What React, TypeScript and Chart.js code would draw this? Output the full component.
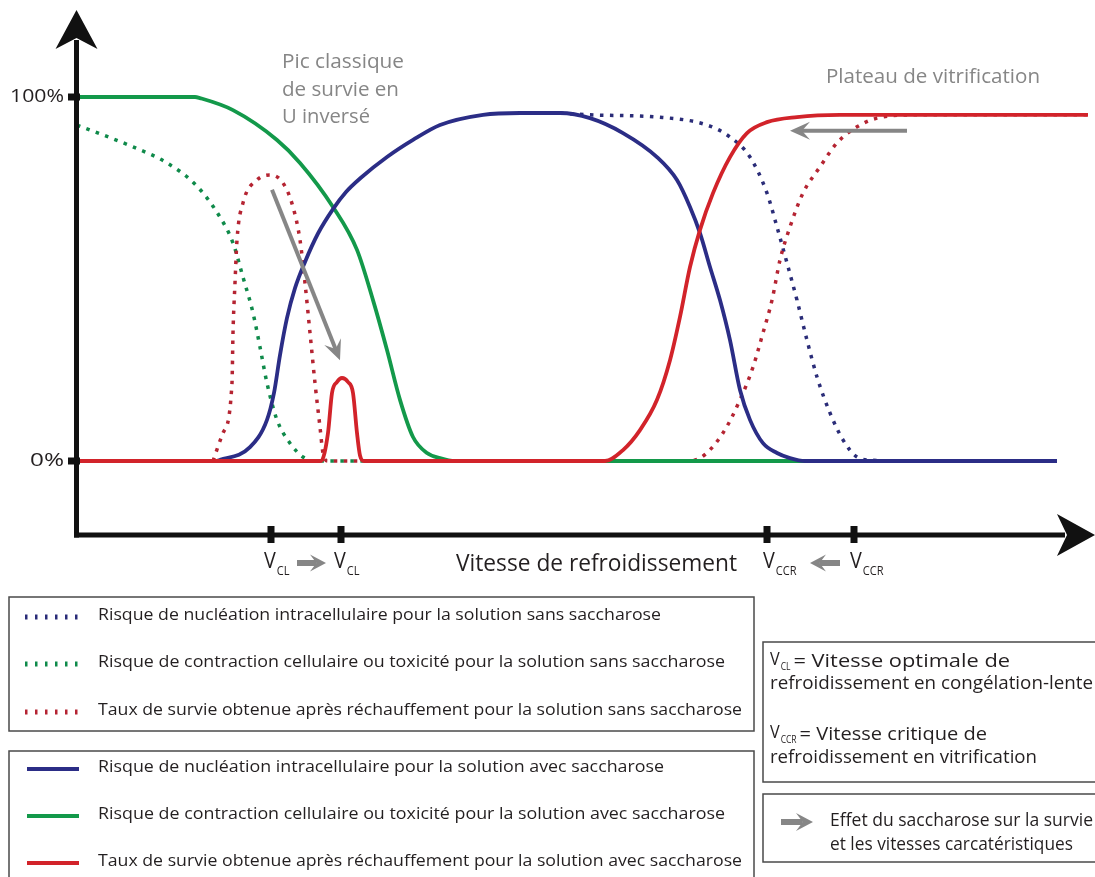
import React, { useEffect, useRef } from 'react';
import { Chart, registerables } from 'chart.js';

Chart.register(...registerables);

const FONT = '"Open Sans", Lato, "DejaVu Sans", sans-serif';
const INK = '#231f20';
const GREY = '#868686';

const COL_BLUE = '#2b2d86';
const COL_GREEN = '#13994a';
const COL_RED = '#d2232a';
const COL_BLUE_DOT = '#2a2c78';
const COL_GREEN_DOT = '#0f8a4a';
const COL_RED_DOT = '#b52432';

// x = cooling speed (arbitrary units), y = percent
const greenSolidX = [0, 12, 12.5, 15.8, 20.2, 22.5, 25.8, 28.2, 29.8, 31.2, 32.5, 33.8, 35.2, 36.5, 38, 78];
const greenSolidY = [100, 100, 99.7, 96.4, 88.2, 81.9, 69.8, 58, 44.2, 30.5, 16.8, 6.6, 2.2, 0.8, 0, 0];

const greenDotX = [0.2, 5.8, 9.2, 12.2, 14.5, 15.8, 16.8, 17.8, 18.5, 19.2, 20.2, 21.5, 22.8, 23.8, 34.5];
const greenDotY = [92.3, 86.3, 81.9, 75.5, 67, 59.9, 50.5, 40.7, 31.3, 21.4, 11.3, 4.9, 1.1, 0, 0];

const redDotX = [13.8, 14.8, 15.7, 15.8, 16, 16.2, 16.8, 18.2, 19.5, 20.8, 21.8, 22.5, 23, 23.5, 24, 24.5, 24.8, 25.3, 61, 62.5, 64.8, 66.5, 67.8, 68.8, 69.7, 70.5, 71.5, 72.8, 74.5, 76.2, 78.2, 80.2, 84.2, 101.3];
const redDotY = [0, 7.7, 21.4, 35.2, 48.9, 60.7, 70.9, 77.2, 78.6, 76.4, 69.8, 60.7, 48.9, 35.2, 21.4, 9.3, 2.2, 0, 0, 0.8, 7.7, 16.8, 25.8, 35.2, 44.2, 55.2, 64.3, 73.6, 80.8, 87.4, 91.8, 94.2, 95.1, 95.1];

const redSolidX = [0, 24.6, 25.3, 25.7, 26.2, 26.7, 27.3, 27.8, 28.2, 28.5, 28.9, 53, 54.8, 56.5, 58.2, 59.5, 60.5, 61.5, 62.5, 63.8, 65.5, 67.2, 69.2, 72.2, 76.5, 101.3];
const redSolidY = [0, 0, 7.7, 18.7, 21.7, 22.8, 21.7, 18.7, 7.7, 1.5, 0, 0, 3, 8.5, 16.8, 27.7, 39.6, 53.3, 63.5, 73.6, 83.5, 90.1, 93.1, 94.5, 95.1, 95.1];

const blueSolidX = [0, 14, 14.5, 17.5, 19.2, 19.9, 20.5, 21.2, 22, 23, 24.3, 25.8, 27.1, 28.5, 31.2, 33.8, 36.5, 40.8, 44.5, 48.5, 51.5, 54.8, 58.2, 60.2, 61.5, 62.5, 63.5, 64.5, 65.5, 66.5, 67.5, 68.8, 70.2, 71.5, 73, 98.2];
const blueSolidY = [0, 0, 0.3, 3.8, 11.3, 18.7, 29.1, 39.3, 47.5, 54.7, 62.5, 69.2, 73.9, 77.6, 83.5, 88.2, 92.3, 95.1, 95.6, 95.6, 94.2, 90.1, 83.5, 77.2, 69.8, 62.6, 53.3, 44.2, 33.2, 19.5, 11.3, 4.9, 2.2, 0.8, 0, 0];

const blueDotX = [48.5, 51.5, 58.2, 63.2, 65.5, 67.5, 69.2, 70.2, 71.2, 72.2, 73.2, 74.2, 75.5, 76.8, 78.2, 79.8, 84];
const blueDotY = [95.6, 95.1, 94.5, 92.3, 89, 83.5, 73.6, 64.3, 54.4, 44.2, 33.2, 23.1, 13.2, 5.8, 1.1, 0.2, 0];

const yTickValues = [0, 100];
const yTickLabels = ['0%', '100%'];
const speedMarks = [19.6, 26.6, 69.2, 77.9];
const speedMarkSubs = ['CL', 'CL', 'CCR', 'CCR'];
const xAxisTitle = 'Vitesse de refroidissement';
const peakNote = ['Pic classique', 'de survie en', 'U inversé'];
const plateauNote = 'Plateau de vitrification';
// sucrose-effect arrows: [x1, y1, x2, y2] in data units
const effectArrows = [
  [19.7, 74.5, 26.5, 27.7],
  [83.2, 90.7, 71.5, 90.7],
];

const legendDotted = [
  'Risque de nucléation intracellulaire pour la solution sans saccharose',
  'Risque de contraction cellulaire ou toxicité pour la solution sans saccharose',
  'Taux de survie obtenue après réchauffement pour la solution sans saccharose',
];
const legendSolid = [
  'Risque de nucléation intracellulaire pour la solution avec saccharose',
  'Risque de contraction cellulaire ou toxicité pour la solution avec saccharose',
  'Taux de survie obtenue après réchauffement pour la solution avec saccharose',
];
const legendDottedColors = [COL_BLUE_DOT, COL_GREEN_DOT, COL_RED_DOT];
const legendSolidColors = [COL_BLUE, COL_GREEN, COL_RED];
const legendWidths = [563, 627, 644, 566, 627, 644];

const defVcl = ['= Vitesse optimale de', 'refroidissement en congélation-lente'];
const defVccr = ['= Vitesse critique de', 'refroidissement en vitrification'];
const effectNote = ['Effet du saccharose sur la survie', 'et les vitesses carcatéristiques'];

const pts = (xs: number[], ys: number[]) => xs.map((x, i) => ({ x, y: ys[i] }));

function text(
  ctx: CanvasRenderingContext2D, s: string, x: number, y: number, size: number,
  color: string, width?: number, align: 'left' | 'right' | 'center' = 'left'
) {
  ctx.save();
  ctx.font = `${size}px ${FONT}`;
  ctx.fillStyle = color;
  ctx.textBaseline = 'middle';
  ctx.textAlign = 'left';
  const w = ctx.measureText(s).width;
  const tw = width ?? w;
  const sx = tw / w;
  let left = x;
  if (align === 'right') left = x - tw;
  if (align === 'center') left = x - tw / 2;
  ctx.translate(left, y);
  ctx.scale(sx, 1);
  ctx.fillText(s, 0, 0);
  ctx.restore();
}

function arrow(
  ctx: CanvasRenderingContext2D, x1: number, y1: number, x2: number, y2: number,
  color: string, shaft: number, headL: number, headW: number
) {
  const dx = x2 - x1, dy = y2 - y1;
  const len = Math.hypot(dx, dy);
  const ux = dx / len, uy = dy / len;
  const px = -uy, py = ux;
  ctx.save();
  ctx.strokeStyle = color;
  ctx.fillStyle = color;
  ctx.lineWidth = shaft;
  ctx.lineCap = 'butt';
  ctx.beginPath();
  ctx.moveTo(x1, y1);
  ctx.lineTo(x2 - ux * headL * 0.6, y2 - uy * headL * 0.6);
  ctx.stroke();
  ctx.beginPath();
  ctx.moveTo(x2, y2);
  ctx.lineTo(x2 - ux * headL + px * headW / 2, y2 - uy * headL + py * headW / 2);
  ctx.lineTo(x2 - ux * headL * 0.6, y2 - uy * headL * 0.6);
  ctx.lineTo(x2 - ux * headL - px * headW / 2, y2 - uy * headL - py * headW / 2);
  ctx.closePath();
  ctx.fill();
  ctx.restore();
}

function vLabel(ctx: CanvasRenderingContext2D, x: number, y: number, sub: string, size: number, subSize: number) {
  ctx.save();
  ctx.font = `${size}px ${FONT}`;
  const vw = ctx.measureText('V').width * 0.9;
  ctx.font = `${subSize}px ${FONT}`;
  const sw = ctx.measureText(sub).width * 0.85;
  ctx.restore();
  text(ctx, 'V', x, y, size, INK, vw);
  text(ctx, sub, x + vw + 1, y + size * 0.42, subSize, INK, sw);
  return x + vw + 1 + sw;
}

function box(ctx: CanvasRenderingContext2D, x1: number, y1: number, x2: number, y2: number) {
  ctx.save();
  ctx.strokeStyle = '#4a4a4a';
  ctx.lineWidth = 1.5;
  ctx.strokeRect(x1, y1, x2 - x1, y2 - y1);
  ctx.restore();
}

const overlay = {
  id: 'overlay',
  beforeDraw(chart: any) {
    const c = chart.ctx;
    c.save();
    c.fillStyle = '#ffffff';
    c.fillRect(0, 0, chart.width, chart.height);
    c.restore();
  },
  afterDraw(chart: any) {
    const ctx: CanvasRenderingContext2D = chart.ctx;
    const xs = chart.scales.x;
    const ys = chart.scales.y;
    const a = chart.chartArea;
    const ax = a.left + 1.5;
    const ay = a.bottom;

    ctx.save();
    ctx.strokeStyle = '#111';
    ctx.fillStyle = '#111';
    ctx.lineWidth = 5;
    ctx.beginPath();
    ctx.moveTo(ax, 40);
    ctx.lineTo(ax, ay + 2.5);
    ctx.stroke();
    ctx.beginPath();
    ctx.moveTo(ax - 2.5, ay);
    ctx.lineTo(a.right - 30, ay);
    ctx.stroke();
    ctx.beginPath();
    ctx.moveTo(ax, 10);
    ctx.lineTo(ax + 21, 49);
    ctx.lineTo(ax, 38);
    ctx.lineTo(ax - 21, 49);
    ctx.closePath();
    ctx.fill();
    ctx.beginPath();
    ctx.moveTo(a.right, ay);
    ctx.lineTo(a.right - 38, ay - 21);
    ctx.lineTo(a.right - 28, ay);
    ctx.lineTo(a.right - 38, ay + 21);
    ctx.closePath();
    ctx.fill();

    yTickValues.forEach((v) => {
      const py = ys.getPixelForValue(v);
      ctx.fillRect(68, py - 3.5, 12, 7);
    });
    speedMarks.forEach((v) => {
      const px = xs.getPixelForValue(v);
      ctx.fillRect(px - 3.5, ay - 9, 7, 17);
    });
    ctx.restore();

    yTickValues.forEach((v, i) => {
      const py = ys.getPixelForValue(v);
      text(ctx, yTickLabels[i], 64, py, 19, INK, yTickLabels[i].length > 2 ? 54 : 34, 'right');
    });

    speedMarks.forEach((v, i) => {
      const px = xs.getPixelForValue(v);
      const off = speedMarkSubs[i].length > 2 ? -4 : -7;
      vLabel(ctx, px + off, 562, speedMarkSubs[i], 22, 13);
    });
    const m = speedMarks.map((v) => xs.getPixelForValue(v));
    arrow(ctx, m[0] + 26, 563, m[0] + 55, 563, GREY, 6, 16, 17);
    arrow(ctx, m[3] - 14, 563, m[3] - 44, 563, GREY, 6, 16, 17);

    text(ctx, xAxisTitle, 456, 564, 23, INK, 281);

    text(ctx, peakNote[0], 282, 62, 20, GREY, 122);
    text(ctx, peakNote[1], 282, 90, 20, GREY, 117);
    text(ctx, peakNote[2], 282, 117, 20, GREY, 88);
    text(ctx, plateauNote, 826, 77, 20, GREY, 214);

    effectArrows.forEach(([x1, y1, x2, y2]) => {
      arrow(ctx, xs.getPixelForValue(x1), ys.getPixelForValue(y1), xs.getPixelForValue(x2), ys.getPixelForValue(y2), GREY, 4, 20, 18);
    });

    box(ctx, 9, 597, 754, 731);
    box(ctx, 9, 751, 754, 879);
    const rowsY1 = [615, 662, 710];
    const rowsY2 = [767, 814, 861];
    legendDotted.forEach((s, i) => {
      ctx.save();
      ctx.strokeStyle = legendDottedColors[i];
      ctx.lineWidth = 5;
      ctx.setLineDash([2.5, 7.5]);
      ctx.beginPath();
      ctx.moveTo(25, rowsY1[i] + 2);
      ctx.lineTo(82, rowsY1[i] + 2);
      ctx.stroke();
      ctx.restore();
      text(ctx, s, 98, rowsY1[i], 17, INK, legendWidths[i]);
    });
    legendSolid.forEach((s, i) => {
      ctx.save();
      ctx.strokeStyle = legendSolidColors[i];
      ctx.lineWidth = 4;
      ctx.beginPath();
      ctx.moveTo(27, rowsY2[i] + 2);
      ctx.lineTo(79, rowsY2[i] + 2);
      ctx.stroke();
      ctx.restore();
      text(ctx, s, 98, rowsY2[i], 17, INK, legendWidths[i + 3]);
    });

    box(ctx, 763, 642, 1100, 782);
    let e = vLabel(ctx, 770, 660, 'CL', 18, 10);
    text(ctx, defVcl[0], e + 3, 662, 17.5, INK, 1010 - e - 3);
    text(ctx, defVcl[1], 770, 684, 17.5, INK, 323);
    e = vLabel(ctx, 770, 733, 'CCR', 18, 10);
    text(ctx, defVccr[0], e + 3, 735, 17.5, INK, 987 - e - 3);
    text(ctx, defVccr[1], 770, 758, 17.5, INK, 267);

    box(ctx, 763, 794, 1100, 862);
    arrow(ctx, 781, 822, 813, 822, GREY, 6, 17, 18);
    text(ctx, effectNote[0], 830, 821, 17.5, INK, 263);
    text(ctx, effectNote[1], 830, 845, 17.5, INK, 243);
  },
};

export default function App() {
  const ref = useRef<HTMLCanvasElement>(null);
  useEffect(() => {
    if (!ref.current) return;
    const dotted = { borderWidth: 3.5, borderDash: [3.5, 6.5], borderCapStyle: 'butt' as const };
    const solid = { borderWidth: 3.8 };
    const chart = new Chart(ref.current, {
      type: 'line',
      data: {
        datasets: [
          { label: 'red solid', data: pts(redSolidX, redSolidY), borderColor: COL_RED, order: 0, ...solid },
          { label: 'blue solid', data: pts(blueSolidX, blueSolidY), borderColor: COL_BLUE, order: 1, ...solid },
          { label: 'green solid', data: pts(greenSolidX, greenSolidY), borderColor: COL_GREEN, order: 2, ...solid },
          { label: 'red dotted', data: pts(redDotX, redDotY), borderColor: COL_RED_DOT, order: 3, ...dotted },
          { label: 'blue dotted', data: pts(blueDotX, blueDotY), borderColor: COL_BLUE_DOT, order: 4, ...dotted },
          { label: 'green dotted', data: pts(greenDotX, greenDotY), borderColor: COL_GREEN_DOT, order: 5, ...dotted },
        ] as any,
      },
      options: {
        animation: false,
        responsive: false,
        events: [],
        layout: { padding: { left: 75, top: 15, right: 0, bottom: 342 } },
        elements: { point: { radius: 0 }, line: { cubicInterpolationMode: 'monotone', fill: false } },
        plugins: { legend: { display: false }, tooltip: { enabled: false } },
        scales: {
          x: { type: 'linear', min: 0, max: 102, display: false },
          y: { type: 'linear', min: -20.33, max: 122.53, display: false },
        },
      },
      plugins: [overlay],
    });
    return () => chart.destroy();
  }, []);
  return (
    <canvas
      ref={ref}
      width={1095}
      height={877}
      style={{ position: 'absolute', left: 0, top: 0, width: 1095, height: 877 }}
    />
  );
}
